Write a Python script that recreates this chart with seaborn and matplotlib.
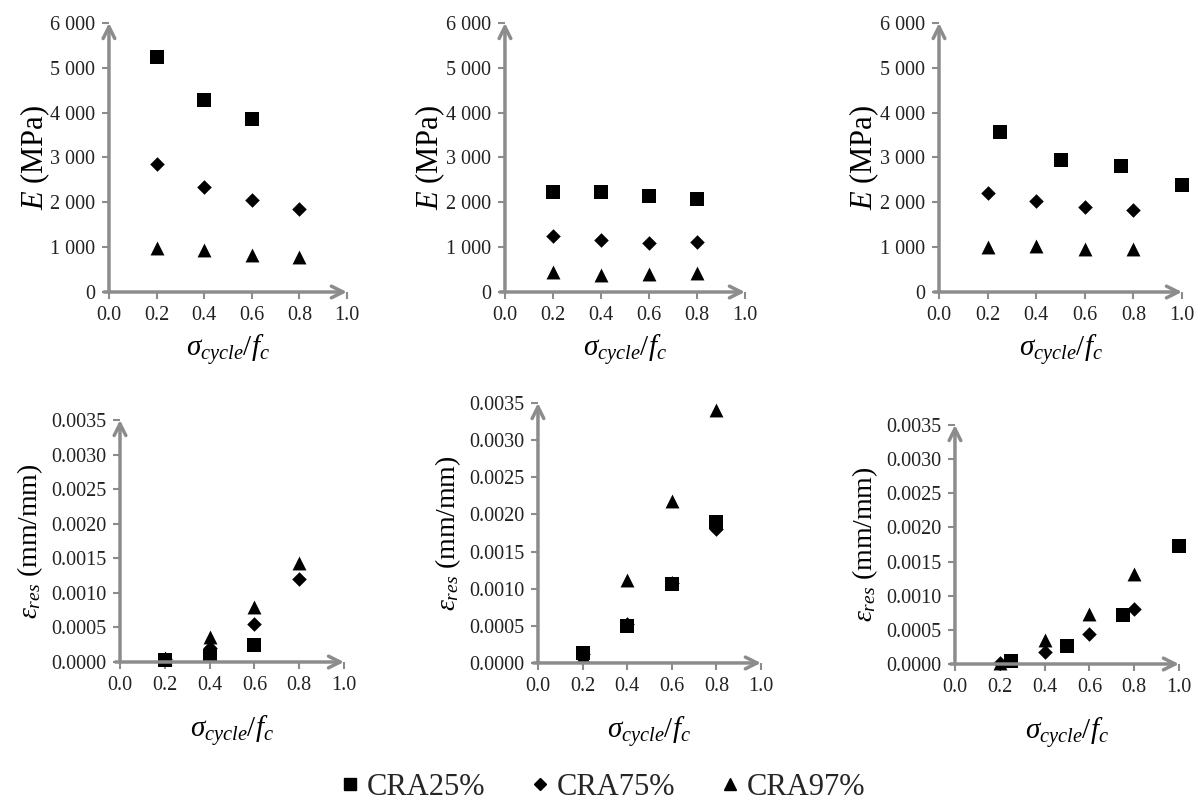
import numpy as np
import pandas as pd
import matplotlib
matplotlib.use("Agg")
import matplotlib.pyplot as plt
from matplotlib.lines import Line2D
from matplotlib.ticker import FuncFormatter
import seaborn as sns

# ---- data -------------------------------------------------------------
series_names = ["CRA25%", "CRA75%", "CRA97%"]

# modulus E (MPa) for three test groups
e1_x = {"CRA25%": [0.2, 0.4, 0.6], "CRA75%": [0.2, 0.4, 0.6, 0.8], "CRA97%": [0.2, 0.4, 0.6, 0.8]}
e1_y = {"CRA25%": [5250, 4280, 3850], "CRA75%": [2850, 2350, 2050, 1850], "CRA97%": [980, 940, 820, 790]}

e2_x = {"CRA25%": [0.2, 0.4, 0.6, 0.8], "CRA75%": [0.2, 0.4, 0.6, 0.8], "CRA97%": [0.2, 0.4, 0.6, 0.8]}
e2_y = {"CRA25%": [2220, 2230, 2130, 2080], "CRA75%": [1250, 1160, 1100, 1120], "CRA97%": [440, 380, 400, 430]}

e3_x = {"CRA25%": [0.25, 0.5, 0.75, 1.0], "CRA75%": [0.2, 0.4, 0.6, 0.8], "CRA97%": [0.2, 0.4, 0.6, 0.8]}
e3_y = {"CRA25%": [3570, 2950, 2800, 2380], "CRA75%": [2200, 2040, 1900, 1830], "CRA97%": [1000, 1030, 950, 960]}

# residual strain (mm/mm)
r1_x = {"CRA25%": [0.2, 0.4, 0.6], "CRA75%": [0.2, 0.4, 0.6, 0.8], "CRA97%": [0.2, 0.4, 0.6, 0.8]}
r1_y = {"CRA25%": [0.00003, 0.00008, 0.00024], "CRA75%": [0.00005, 0.00020, 0.00055, 0.00120],
        "CRA97%": [0.00006, 0.00036, 0.00080, 0.00143]}

r2_x = {"CRA25%": [0.2, 0.4, 0.6, 0.8], "CRA75%": [0.2, 0.4, 0.6, 0.8], "CRA97%": [0.2, 0.4, 0.6, 0.8]}
r2_y = {"CRA25%": [0.00014, 0.00050, 0.00106, 0.00190], "CRA75%": [0.00012, 0.00052, 0.00108, 0.00180],
        "CRA97%": [0.00010, 0.00112, 0.00218, 0.00341]}

r3_x = {"CRA25%": [0.25, 0.5, 0.75, 1.0], "CRA75%": [0.2, 0.4, 0.6, 0.8], "CRA97%": [0.2, 0.4, 0.6, 0.8]}
r3_y = {"CRA25%": [0.00005, 0.00026, 0.00072, 0.00173], "CRA75%": [0.00001, 0.00018, 0.00044, 0.00080],
        "CRA97%": [0.00002, 0.00035, 0.00073, 0.00132]}

x_ticks = [0.0, 0.2, 0.4, 0.6, 0.8, 1.0]
e_ticks = [0, 1000, 2000, 3000, 4000, 5000, 6000]
r_ticks = [0.0, 0.0005, 0.0010, 0.0015, 0.0020, 0.0025, 0.0030, 0.0035]


def to_frame(xs, ys):
    rows = []
    for name in series_names:
        for xv, yv in zip(xs[name], ys[name]):
            rows.append({"x": xv, "y": yv, "series": name})
    return pd.DataFrame(rows)


# ---- style ------------------------------------------------------------
sns.set_theme(style="white")
plt.rcParams["font.family"] = ["Liberation Serif", "DejaVu Serif"]
plt.rcParams["mathtext.fontset"] = "custom"
plt.rcParams["mathtext.rm"] = "Liberation Serif"
plt.rcParams["mathtext.it"] = "Liberation Serif:italic"
plt.rcParams["mathtext.bf"] = "Liberation Serif:bold"

markers = {"CRA25%": "s", "CRA75%": "D", "CRA97%": "^"}
sizes = {"CRA25%": 90, "CRA75%": 55, "CRA97%": 100}
grey = "#8c8c8c"

fig = plt.figure(figsize=(12, 8), dpi=100)

# axes boxes [left, bottom, width, height]
boxes = [
    [0.0908, 0.6350, 0.1983, 0.3363],
    [0.4208, 0.6350, 0.2000, 0.3363],
    [0.7825, 0.6350, 0.2025, 0.3363],
    [0.1000, 0.1725, 0.1867, 0.3025],
    [0.4483, 0.1713, 0.1858, 0.3250],
    [0.7958, 0.1700, 0.1867, 0.2988],
]
panels = [(e1_x, e1_y), (e2_x, e2_y), (e3_x, e3_y), (r1_x, r1_y), (r2_x, r2_y), (r3_x, r3_y)]

e_fmt = FuncFormatter(lambda v, p: f"{int(v):,}".replace(",", " "))
r_fmt = FuncFormatter(lambda v, p: f"{v:.4f}")

for i, (box, (xs, ys)) in enumerate(zip(boxes, panels)):
    ax = fig.add_axes(box)
    df = to_frame(xs, ys)
    for name in series_names:
        sub = df[df["series"] == name]
        sns.scatterplot(data=sub, x="x", y="y", marker=markers[name], s=sizes[name],
                        color="black", edgecolor="black", linewidth=0, ax=ax,
                        clip_on=False, zorder=3)
    top_row = i < 3
    ymax = 6000 if top_row else 0.0035
    ax.set_xlim(0, 1.0)
    ax.set_ylim(0, ymax)
    ax.set_xticks(x_ticks)
    ax.set_xticklabels([f"{t:.1f}" for t in x_ticks])
    ax.set_yticks(e_ticks if top_row else r_ticks)
    ax.yaxis.set_major_formatter(e_fmt if top_row else r_fmt)
    for sp in ax.spines.values():
        sp.set_visible(False)
    ax.tick_params(axis="both", which="both", direction="out", length=5, width=1.5,
                   color=grey, labelsize=14.5, labelcolor="#222222", pad=5,
                   left=True, bottom=True)
    ax.set_facecolor("none")
    # axis lines with arrowheads
    arrow = dict(arrowstyle="->,head_length=0.7,head_width=0.35", color=grey, lw=2.5,
                 shrinkA=0, shrinkB=0)
    ax.annotate("", xy=(1.0, 0), xytext=(-0.02, 0), xycoords="axes fraction",
                arrowprops=arrow, annotation_clip=False)
    ax.annotate("", xy=(0, 1.0), xytext=(0, 0), xycoords="axes fraction",
                arrowprops=arrow, annotation_clip=False)
    ax.set_xlabel(r"$\sigma_{cycle}/f_c$", fontsize=21, labelpad=(6 if top_row else 14),
                  color="black")
    if top_row:
        ax.set_ylabel(r"$E$ (MPa)", fontsize=22, color="black")
        ax.yaxis.set_label_coords(-0.24, 0.5)
    else:
        ax.set_ylabel(r"$\varepsilon_{res}$ (mm/mm)", fontsize=20, labelpad=4, color="black")
    ax.grid(False)

handles = [Line2D([], [], linestyle="none", marker=markers[n], color="black",
                  markersize=(9 if n != "CRA75%" else 6.5)) for n in series_names]
fig.legend(handles, series_names, loc="center", bbox_to_anchor=(0.5, 0.016),
           ncol=3, frameon=False, fontsize=22, handletextpad=0.05, columnspacing=1.3,
           handlelength=1.0, borderpad=0)

fig.savefig("out.png", dpi=100, facecolor="white")
